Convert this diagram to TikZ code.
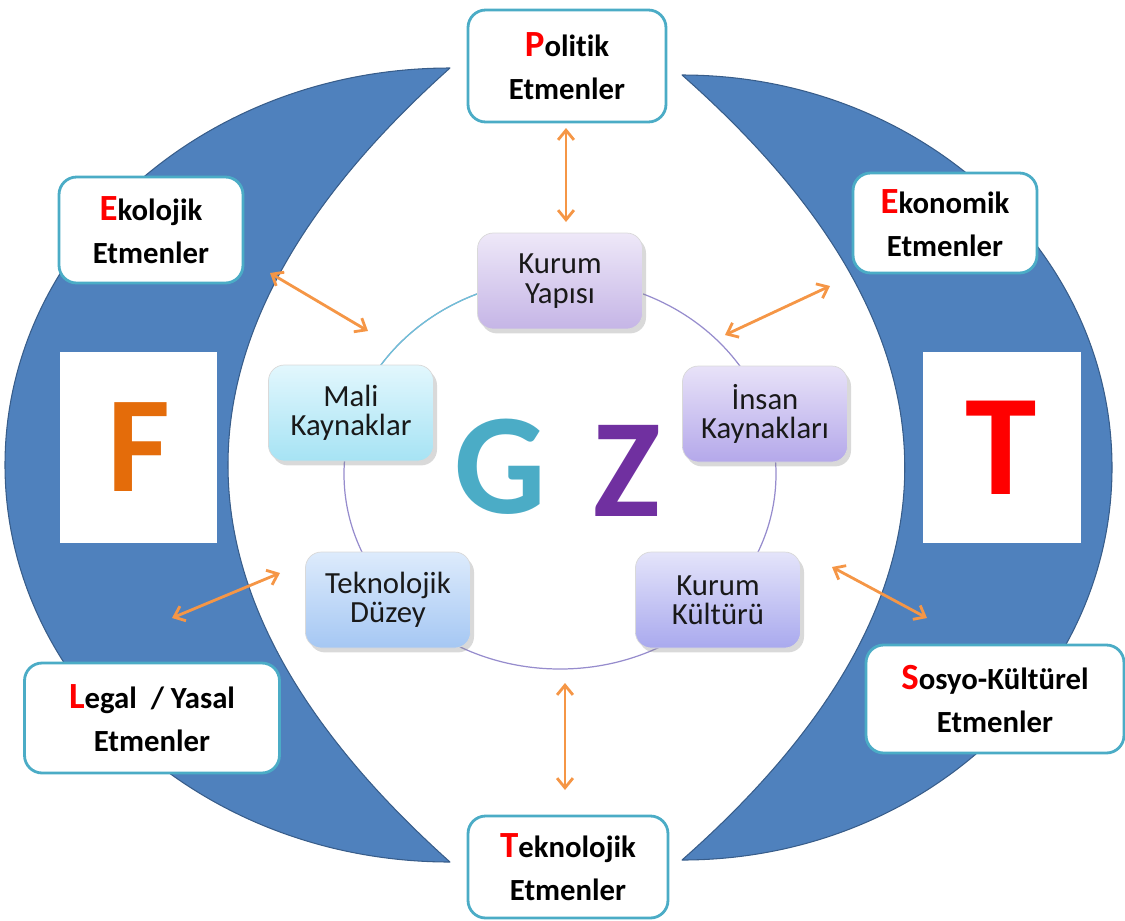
\documentclass[tikz,border=0pt]{standalone}
\usepackage{fontspec}
\setmainfont{Carlito}[Ligatures={TeX,NoCommon}]
\usetikzlibrary{arrows.meta,shadows}

\newcommand{\ilk}[1]{{\color{red}\fontsize{21}{25}\selectfont #1}}

\begin{document}
\begin{tikzpicture}[x=0.02cm, y=-0.02cm, line join=round, line cap=round,
    etmen/.style={draw=cTeal, line width=1.6pt, fill=white, rounded corners=10pt, align=center,
      font=\bfseries\fontsize{17.5}{24.5}\selectfont, inner sep=2pt},
    kaynak/.style={draw=black!15, line width=0.4pt, rounded corners=9pt, align=center,
      minimum width=3.3cm, minimum height=1.92cm, text=black!90,
      font=\fontsize{17.5}{16.8}\selectfont,
      drop shadow={opacity=0.3, shadow xshift=2pt, shadow yshift=-2.5pt}},
    kare/.style={fill=white, minimum width=3.16cm, minimum height=3.82cm, inner sep=0pt,
      font=\bfseries\fontsize{78}{78}\selectfont},
    ok/.style={draw=cOrange, line width=1.6pt, <->, >={Straight Barb[length=5.5pt, width=9pt]}}]
  \definecolor{cTeal}{RGB}{75, 172, 198}
  \definecolor{cOrange}{RGB}{245, 150, 70}
  \definecolor{cBlue}{RGB}{79, 129, 189}
  \definecolor{cBlueD}{RGB}{56, 93, 138}
  \definecolor{cF}{RGB}{228, 108, 10}
  \definecolor{cZ}{RGB}{112, 48, 160}
  \definecolor{cRing}{RGB}{150, 140, 205}
  \definecolor{cCyan}{RGB}{110, 195, 215}

  \useasboundingbox (0,0) rectangle (1125,920);

  \filldraw[fill=cBlue, draw=cBlueD, line width=0.6pt]
    (450,68) .. controls (204,68) and (5,246) .. (5,465)
             .. controls (5,684) and (204,862) .. (450,862)
             .. controls (154,597) and (154,333) .. (450,68) -- cycle;
  \filldraw[fill=cBlue, draw=cBlueD, line width=0.6pt]
    (682,75) .. controls (919.5,75) and (1112,250.7) .. (1112,467.5)
             .. controls (1112,684.3) and (919.5,860) .. (682,860)
             .. controls (979,598) and (979,337) .. (682,75) -- cycle;

  \node[kare, text=cF] (fkutu) at (138.5,447.5) {\raisebox{-5pt}{F}};
  \node[kare, text=red, font=\bfseries\fontsize{82}{82}\selectfont] (tkutu) at (1001.5,447.5) {\raisebox{-2pt}{T}};

  \draw[cRing, line width=0.7pt] (560,474) ellipse [x radius=216, y radius=195];
  \draw[cCyan, line width=0.7pt] plot[domain=100:160, samples=30] ({560+216*cos(\x)}, {474-195*sin(\x)});

  \node[text=cTeal, inner sep=0pt, font=\bfseries\fontsize{82}{82}\selectfont] (harfG) at (500,467) {G};
  \node[text=cZ, inner sep=0pt, font=\bfseries\fontsize{80}{80}\selectfont] (harfZ) at (627,471) {Z};

  \node[kaynak, top color={rgb,255:red,238;green,232;blue,248}, bottom color={rgb,255:red,197;green,181;blue,230}] (yapi) at (560,281) {Kurum\\Yapısı};
  \node[kaynak, top color={rgb,255:red,226;green,247;blue,253}, bottom color={rgb,255:red,166;green,227;blue,244}] (mali) at (351,413) {Mali\\Kaynaklar};
  \node[kaynak, top color={rgb,255:red,232;green,226;blue,248}, bottom color={rgb,255:red,180;green,168;blue,234}] (insan) at (765,414) {İnsan\\Kaynakları};
  \node[kaynak, top color={rgb,255:red,221;green,235;blue,252}, bottom color={rgb,255:red,165;green,199;blue,243}] (duzey) at (388,600) {Teknolojik\\Düzey};
  \node[kaynak, top color={rgb,255:red,228;green,228;blue,250}, bottom color={rgb,255:red,169;green,169;blue,238}] (kultur) at (718,600) {Kurum\\Kültürü};

  \node[etmen, minimum width=3.96cm, minimum height=2.24cm] (politik) at (567,66) {\ilk{P}olitik\\Etmenler};
  \node[etmen, minimum width=3.68cm, minimum height=2.12cm] (ekolojik) at (151,230) {\ilk{E}kolojik\\Etmenler};
  \node[etmen, minimum width=3.68cm, minimum height=2.0cm] (ekonomik) at (945,223) {\ilk{E}konomik\\Etmenler};
  \node[etmen, minimum width=5.1cm, minimum height=2.2cm] (legal) at (152,718) {\ilk{L}egal\ \ / Yasal\\Etmenler};
  \node[etmen, minimum width=5.16cm, minimum height=2.16cm] (sosyo) at (995,699) {\ilk{S}osyo-Kültürel\\Etmenler};
  \node[etmen, minimum width=4.0cm, minimum height=2.04cm] (teknolojik) at (568,867) {\ilk{T}eknolojik\\Etmenler};

  \coordinate (okP1) at (566,128);  \coordinate (okP2) at (566,222);
  \coordinate (okE1) at (270,273);  \coordinate (okE2) at (368,331);
  \coordinate (okK1) at (830,286);  \coordinate (okK2) at (725,335);
  \coordinate (okL1) at (280,573);  \coordinate (okL2) at (172,618);
  \coordinate (okS1) at (832,567);  \coordinate (okS2) at (927,618);
  \coordinate (okT1) at (565,683);  \coordinate (okT2) at (565,790);

  \draw[ok] (okP1) -- (okP2);
  \draw[ok] (okE1) -- (okE2);
  \draw[ok] (okK1) -- (okK2);
  \draw[ok] (okL1) -- (okL2);
  \draw[ok] (okS1) -- (okS2);
  \draw[ok] (okT1) -- (okT2);
\end{tikzpicture}
\end{document}
